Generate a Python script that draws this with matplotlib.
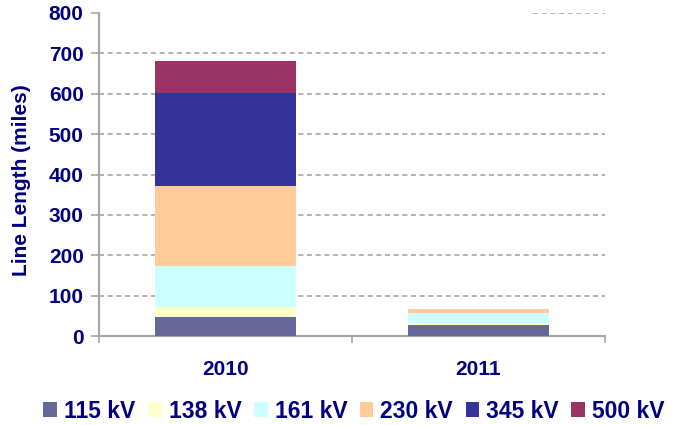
import matplotlib.pyplot as plt
import numpy as np

plt.rcParams['font.family'] = ['Liberation Sans', 'DejaVu Sans']

years = ['2010', '2011']
voltages = ['115 kV', '138 kV', '161 kV', '230 kV', '345 kV', '500 kV']
colors = ['#666699', '#FFFFCC', '#CCFFFF', '#FFCC99', '#333399', '#993366']
# miles of line per voltage class, per year
kv115 = [48, 27]
kv138 = [25, 4]
kv161 = [101, 25]
kv230 = [198, 11]
kv345 = [230, 0]
kv500 = [79, 0]
series = [kv115, kv138, kv161, kv230, kv345, kv500]

navy = '#000080'
grey = '#A6A6A6'

fig = plt.figure(figsize=(6.8, 4.25), dpi=100)
ax = fig.add_axes([99/680, 1-336/425, 506/680, 323/425])

x = np.arange(len(years))
bottom = np.zeros(len(years))
for name, vals, c in zip(voltages, series, colors):
    ax.bar(x, vals, width=0.56, bottom=bottom, color=c, label=name,
           edgecolor='none', zorder=3)
    bottom += np.array(vals)

ax.set_xlim(-0.5, 1.5)
ax.set_ylim(0, 800)
ax.set_yticks(range(0, 801, 100))
ax.set_xticks(x)
ax.set_xticklabels(years)
ax.set_xticks([-0.5, 0.5, 1.5], minor=True)

# dashed grid; the top one is partly hidden in the original
for v in range(100, 701, 100):
    ax.axhline(v, color=grey, lw=1.2, ls=(0, (3, 2.2)), zorder=1)
ax.axhline(800, xmin=(533-99)/506, xmax=1, color=grey, lw=1.2,
           ls=(0, (3, 2.2)), zorder=1)

for s in ['top', 'right']:
    ax.spines[s].set_visible(False)
for s in ['left', 'bottom']:
    ax.spines[s].set_color(grey)
    ax.spines[s].set_linewidth(1.5)

ax.tick_params(axis='y', colors=grey, length=6, width=1.2, labelcolor=navy,
               labelsize=15, pad=5)
ax.tick_params(axis='x', which='major', length=0, labelcolor=navy,
               labelsize=15, pad=17)
ax.tick_params(axis='x', which='minor', colors=grey, length=5, width=1.2)
for lab in ax.get_xticklabels() + ax.get_yticklabels():
    lab.set_fontweight('bold')

ax.set_ylabel('Line Length (miles)', color=navy, fontsize=15,
              fontweight='bold')
ax.yaxis.set_label_coords(-0.134, 0.483)

leg = fig.legend(loc='center', bbox_to_anchor=(354/680, 14/425), ncol=6,
                 frameon=False, handlelength=0.6, handleheight=0.6,
                 handletextpad=0.3, columnspacing=0.55,
                 prop={'size': 16.5, 'weight': 'bold'})
for t in leg.get_texts():
    t.set_color(navy)

fig.savefig('out.png', dpi=100)
